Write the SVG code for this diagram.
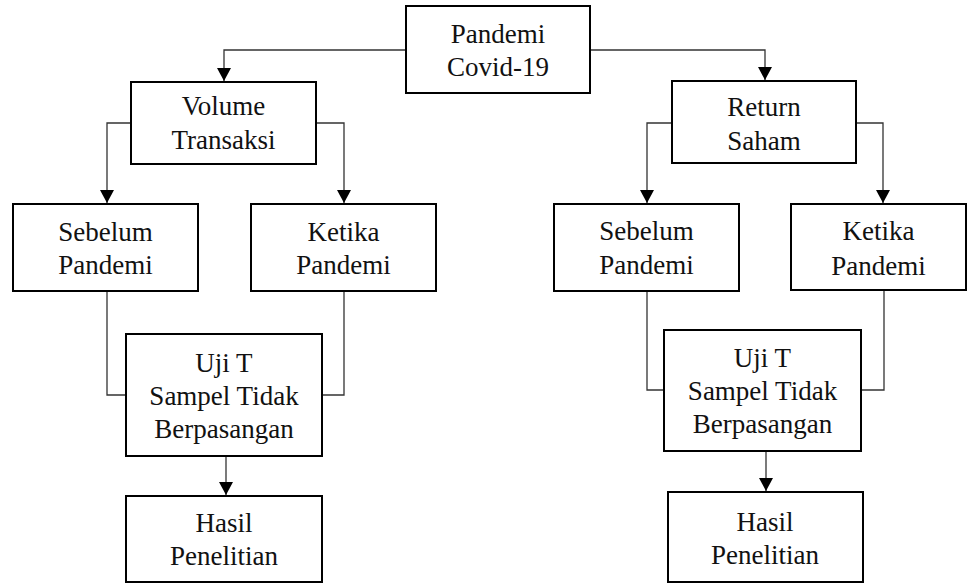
<svg xmlns="http://www.w3.org/2000/svg" width="968" height="584" viewBox="0 0 968 584">
<style>
.box{fill:#fff;stroke:#000;stroke-width:2}
.t{font-family:'Liberation Serif','DejaVu Serif',serif;font-size:27px;fill:#111;text-anchor:middle}
.c{fill:none;stroke:#333;stroke-width:1.3}
</style>
<defs>
<marker id="ah" markerUnits="userSpaceOnUse" markerWidth="14" markerHeight="14" refX="13" refY="7" orient="auto">
<path d="M0,0 L13,7 L0,14 z" fill="#000"/>
</marker>
</defs>
<rect width="968" height="584" fill="#fff"/>
<g id="connectors">
<path class="c" d="M406,50 H224 V81" marker-end="url(#ah)"/>
<path class="c" d="M590,50 H765 V80" marker-end="url(#ah)"/>
<path class="c" d="M131,123 H107 V203" marker-end="url(#ah)"/>
<path class="c" d="M316,123 H344 V203" marker-end="url(#ah)"/>
<path class="c" d="M672,123 H647 V203" marker-end="url(#ah)"/>
<path class="c" d="M856,123 H883 V203" marker-end="url(#ah)"/>
<path class="c" d="M107,291 V395 H126"/>
<path class="c" d="M344,291 V395 H322"/>
<path class="c" d="M647,291 V390 H664"/>
<path class="c" d="M884,290 V390 H861"/>
<path class="c" d="M226,456 V495" marker-end="url(#ah)"/>
<path class="c" d="M766,451 V491" marker-end="url(#ah)"/>
</g>
<g id="pandemi">
<rect class="box" x="406" y="6" width="184" height="87"/>
<text class="t" x="498" y="43" font-family="Liberation Serif, serif">Pandemi</text>
<text class="t" x="498" y="76" font-family="Liberation Serif, serif">Covid-19</text>
</g>
<g id="volume">
<rect class="box" x="131" y="82" width="185" height="82"/>
<text class="t" x="223.5" y="115">Volume</text>
<text class="t" x="223.5" y="149">Transaksi</text>
</g>
<g id="return">
<rect class="box" x="672" y="81" width="184" height="82"/>
<text class="t" x="764" y="116">Return</text>
<text class="t" x="764" y="150">Saham</text>
</g>
<g id="sebelum-left">
<rect class="box" x="13" y="204" width="185" height="87"/>
<text class="t" x="105.5" y="241">Sebelum</text>
<text class="t" x="105.5" y="274">Pandemi</text>
</g>
<g id="ketika-left">
<rect class="box" x="251" y="204" width="185" height="87"/>
<text class="t" x="343.5" y="241">Ketika</text>
<text class="t" x="343.5" y="274">Pandemi</text>
</g>
<g id="sebelum-right">
<rect class="box" x="554" y="204" width="185" height="87"/>
<text class="t" x="646.5" y="240">Sebelum</text>
<text class="t" x="646.5" y="274">Pandemi</text>
</g>
<g id="ketika-right">
<rect class="box" x="791" y="204" width="175" height="86"/>
<text class="t" x="878.5" y="240">Ketika</text>
<text class="t" x="878.5" y="275">Pandemi</text>
</g>
<g id="uji-left">
<rect class="box" x="126" y="334" width="196" height="122"/>
<text class="t" x="224" y="372">Uji T</text>
<text class="t" x="224" y="405">Sampel Tidak</text>
<text class="t" x="224" y="438">Berpasangan</text>
</g>
<g id="uji-right">
<rect class="box" x="664" y="330" width="197" height="121"/>
<text class="t" x="762.5" y="367">Uji T</text>
<text class="t" x="762.5" y="400">Sampel Tidak</text>
<text class="t" x="762.5" y="433">Berpasangan</text>
</g>
<g id="hasil-left">
<rect class="box" x="126" y="496" width="196" height="86"/>
<text class="t" x="224" y="532">Hasil</text>
<text class="t" x="224" y="565">Penelitian</text>
</g>
<g id="hasil-right">
<rect class="box" x="668" y="492" width="195" height="90"/>
<text class="t" x="765" y="531">Hasil</text>
<text class="t" x="765" y="564">Penelitian</text>
</g>
</svg>
